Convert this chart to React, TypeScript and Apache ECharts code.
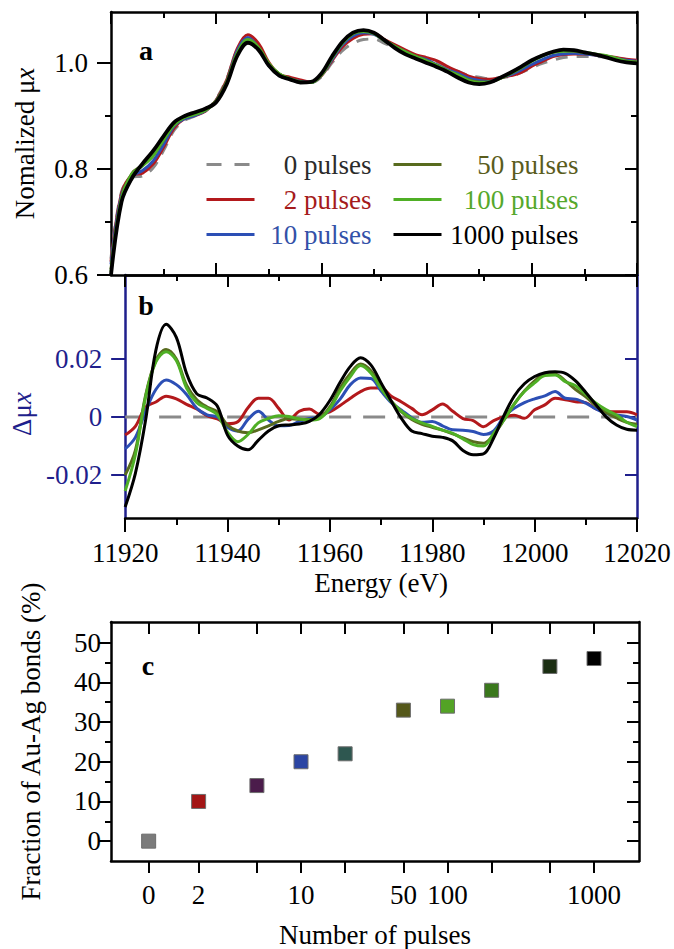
import React, { useEffect, useRef } from 'react';
import * as echarts from 'echarts';

// ---------- Panel a / b : energy grid (eV) ----------
const energies = [11920,11922,11924,11926,11928,11930,11932,11934,11936,11938,11940,11942,11944,11946,11948,11950,11952,11954,11956,11958,11960,11962,11964,11966,11968,11970,11972,11974,11976,11978,11980,11982,11984,11986,11988,11990,11992,11994,11996,11998,12000,12002,12004,12006,12008,12010,12012,12014,12016,12018,12020];

// Panel a: normalized mu x
const muA_0 = [0.631,0.757,0.784,0.787,0.802,0.835,0.873,0.892,0.900,0.910,0.932,0.970,1.024,1.046,1.030,0.998,0.979,0.971,0.965,0.963,0.974,1.000,1.023,1.037,1.044,1.045,1.037,1.029,1.021,1.014,1.007,0.999,0.991,0.984,0.976,0.973,0.970,0.972,0.975,0.982,0.991,0.999,1.005,1.010,1.012,1.012,1.012,1.011,1.008,1.005,1.004];
const muA_2 = [0.625,0.754,0.788,0.792,0.809,0.841,0.877,0.895,0.901,0.909,0.930,0.968,1.027,1.053,1.037,1.001,0.978,0.973,0.968,0.964,0.976,1.004,1.030,1.046,1.054,1.055,1.044,1.034,1.024,1.015,1.010,1.004,0.993,0.984,0.975,0.970,0.969,0.972,0.976,0.982,0.994,1.003,1.012,1.016,1.017,1.017,1.015,1.013,1.010,1.007,1.005];
const muA_10 = [0.620,0.750,0.786,0.797,0.815,0.846,0.881,0.895,0.901,0.910,0.929,0.965,1.023,1.048,1.029,0.995,0.976,0.970,0.965,0.963,0.977,1.006,1.034,1.051,1.057,1.054,1.042,1.031,1.021,1.012,1.006,0.996,0.987,0.980,0.971,0.967,0.965,0.972,0.978,0.987,0.997,1.006,1.014,1.017,1.018,1.017,1.015,1.012,1.009,1.005,1.003];
const muA_50 = [0.611,0.746,0.792,0.807,0.825,0.855,0.884,0.898,0.904,0.912,0.929,0.965,1.019,1.042,1.027,0.997,0.979,0.970,0.964,0.963,0.978,1.010,1.038,1.055,1.060,1.056,1.043,1.031,1.020,1.012,1.004,0.995,0.985,0.977,0.968,0.964,0.964,0.971,0.980,0.991,1.004,1.014,1.020,1.023,1.022,1.019,1.016,1.013,1.008,1.003,1.002];
const muA_100 = [0.606,0.744,0.791,0.806,0.825,0.855,0.883,0.897,0.903,0.911,0.927,0.962,1.018,1.044,1.030,0.999,0.979,0.970,0.964,0.963,0.977,1.009,1.037,1.055,1.059,1.055,1.042,1.031,1.021,1.012,1.004,0.995,0.985,0.977,0.967,0.963,0.964,0.971,0.980,0.991,1.003,1.013,1.020,1.022,1.023,1.020,1.017,1.014,1.009,1.003,1.001];
const muA_1000 = [0.600,0.738,0.783,0.810,0.834,0.862,0.888,0.900,0.907,0.914,0.926,0.960,1.013,1.038,1.025,0.995,0.976,0.969,0.963,0.964,0.980,1.012,1.040,1.057,1.062,1.057,1.043,1.028,1.016,1.008,1.000,0.992,0.983,0.972,0.963,0.960,0.963,0.972,0.982,0.993,1.005,1.014,1.021,1.025,1.024,1.020,1.016,1.011,1.005,1.001,0.999];

// Panel b: difference delta mu x
const zeroLineEnergies = [11920, 12020];
const dMu_0 = [0, 0];
const dMu_2 = [-0.0062,-0.0032,0.0035,0.0052,0.0072,0.0063,0.0044,0.0028,0.0005,-0.0006,-0.0023,-0.0016,0.0032,0.0065,0.0065,0.0030,-0.0010,0.0020,0.0028,0.0010,0.0018,0.0040,0.0065,0.0088,0.0100,0.0100,0.0072,0.0052,0.0030,0.0008,0.0025,0.0045,0.0020,-0.0005,-0.0012,-0.0033,-0.0012,0.0001,0.0006,-0.0004,0.0025,0.0042,0.0065,0.0060,0.0053,0.0050,0.0028,0.0019,0.0018,0.0018,0.0008];
const dMu_10 = [-0.0110,-0.0070,0.0020,0.0095,0.0128,0.0112,0.0078,0.0030,0.0008,0.0000,-0.0035,-0.0048,-0.0008,0.0020,-0.0010,-0.0030,-0.0029,-0.0015,-0.0005,0.0000,0.0025,0.0062,0.0112,0.0135,0.0133,0.0090,0.0050,0.0024,-0.0002,-0.0018,-0.0015,-0.0030,-0.0044,-0.0045,-0.0050,-0.0060,-0.0048,0.0001,0.0030,0.0050,0.0063,0.0073,0.0088,0.0065,0.0062,0.0048,0.0028,0.0012,0.0007,0.0002,-0.0010];
const dMu_50 = [-0.0200,-0.0115,0.0075,0.0195,0.0233,0.0200,0.0110,0.0060,0.0035,0.0018,-0.0028,-0.0048,-0.0054,-0.0044,-0.0030,-0.0015,-0.0005,-0.0008,-0.0008,-0.0002,0.0035,0.0100,0.0150,0.0183,0.0160,0.0105,0.0055,0.0018,-0.0008,-0.0025,-0.0035,-0.0045,-0.0058,-0.0072,-0.0085,-0.0090,-0.0060,-0.0010,0.0045,0.0090,0.0125,0.0148,0.0148,0.0125,0.0095,0.0070,0.0038,0.0015,-0.0003,-0.0018,-0.0025];
const dMu_100 = [-0.0255,-0.0130,0.0070,0.0190,0.0225,0.0195,0.0100,0.0050,0.0030,0.0008,-0.0052,-0.0085,-0.0060,-0.0020,-0.0005,0.0005,0.0002,-0.0006,-0.0010,-0.0005,0.0030,0.0090,0.0140,0.0178,0.0152,0.0098,0.0053,0.0020,-0.0005,-0.0020,-0.0032,-0.0045,-0.0056,-0.0075,-0.0095,-0.0100,-0.0056,-0.0010,0.0045,0.0088,0.0118,0.0143,0.0145,0.0122,0.0108,0.0078,0.0048,0.0025,0.0007,-0.0018,-0.0033];
const dMu_1000 = [-0.0310,-0.0194,-0.0010,0.0230,0.0320,0.0275,0.0150,0.0080,0.0066,0.0038,-0.0062,-0.0100,-0.0113,-0.0080,-0.0048,-0.0030,-0.0027,-0.0024,-0.0015,0.0010,0.0057,0.0120,0.0175,0.0205,0.0180,0.0118,0.0055,-0.0005,-0.0048,-0.0057,-0.0066,-0.0070,-0.0082,-0.0115,-0.0130,-0.0127,-0.0072,0.0005,0.0072,0.0115,0.0140,0.0153,0.0156,0.0151,0.0125,0.0085,0.0042,0.0000,-0.0027,-0.0042,-0.0045];

// Panel c
const pulseCounts = [0, 2, 5, 10, 20, 50, 100, 200, 500, 1000];
const auAgFraction = [0, 10, 14, 20, 22, 33, 34, 38, 44, 46];
const labeledPulses = [0, 2, 10, 50, 100, 1000];

// Tick values
const energyMajorTicks = [11920, 11940, 11960, 11980, 12000, 12020];
const energyMinorTicks = [11930, 11950, 11970, 11990, 12010];
const muMajorTicks = [0.6, 0.8, 1.0];
const muMinorTicks = [0.7, 0.9];
const dMuTicks = [-0.02, 0, 0.02];
const fracMajorTicks = [0, 10, 20, 30, 40, 50];
const fracMinorTicks = [5, 15, 25, 35, 45];

// ---------- styling ----------
const FONT = 'Liberation Serif';
const NAVY = '#1f1f8c';
const FS = 27;
const seriesStyle = [
  { name: '0 pulses', color: '#8a8a8a', text: '#2b2b2b' },
  { name: '2 pulses', color: '#b3191c', text: '#a51b1b' },
  { name: '10 pulses', color: '#2c4fb5', text: '#3351a8' },
  { name: '50 pulses', color: '#586b1e', text: '#5a5c1c' },
  { name: '100 pulses', color: '#4faf25', text: '#56a82c' },
  { name: '1000 pulses', color: '#000000', text: '#000000' },
];
const markerColors = ['#7b7b7b', '#a31515', '#4b1c4b', '#2b45a3', '#2e5750', '#55581a', '#53a325', '#3a781c', '#1b2e12', '#000000'];

const ZERO_PULSE_POS = -0.04;
const pulsePos = (n: number) => (n > 0 ? Math.log10(n) : ZERO_PULSE_POS);

function tickAxis(o: any) {
  const color = o.color || '#000';
  const ax: any = {
    type: 'value',
    gridIndex: o.gridIndex,
    position: o.position,
    min: o.min,
    max: o.max,
    splitLine: { show: false },
    axisLine: { show: !!o.line, onZero: false, lineStyle: { color, width: 2.5 } },
    axisTick: { show: true, inside: o.inside, length: o.len, customValues: o.ticks, lineStyle: { color, width: 2 } },
    axisLabel: o.labels
      ? { show: true, customValues: o.labels.values, formatter: o.labels.formatter, margin: o.labels.margin, color: o.labels.color || color, fontFamily: FONT, fontSize: FS }
      : { show: false },
    minorTick: { show: false },
    axisPointer: { show: false },
  };
  if (o.extra) Object.assign(ax, o.extra);
  return ax;
}

const E_MIN = 11920, E_MAX = 12020;
const MU_MIN = 0.6, MU_MAX = 1.096;
const DMU_MIN = -0.0348, DMU_MAX = 0.049;
const FR_MIN = -5, FR_MAX = 55.2;
const PX_MIN = -0.297, PX_MAX = 3.307;

function buildOption() {
  const pulseTickPos = pulseCounts.map(pulsePos);
  const pulseLabelPos = labeledPulses.map(pulsePos);
  const pulseFormatter = (v: number) => {
    const i = pulseLabelPos.findIndex((p) => Math.abs(p - v) < 1e-6);
    return i >= 0 ? String(labeledPulses[i]) : '';
  };

  const xAxis = [
    tickAxis({ gridIndex: 0, position: 'bottom', min: E_MIN, max: E_MAX, ticks: energyMajorTicks, len: 12, inside: true, line: true }),
    tickAxis({ gridIndex: 0, position: 'bottom', min: E_MIN, max: E_MAX, ticks: energyMinorTicks, len: 6, inside: true }),
    tickAxis({ gridIndex: 0, position: 'top', min: E_MIN, max: E_MAX, ticks: energyMajorTicks, len: 12, inside: true, line: true }),
    tickAxis({ gridIndex: 0, position: 'top', min: E_MIN, max: E_MAX, ticks: energyMinorTicks, len: 6, inside: true }),
    tickAxis({ gridIndex: 1, position: 'top', min: E_MIN, max: E_MAX, ticks: energyMajorTicks, len: 12, inside: true, line: true }),
    tickAxis({ gridIndex: 1, position: 'top', min: E_MIN, max: E_MAX, ticks: energyMinorTicks, len: 6, inside: true }),
    tickAxis({
      gridIndex: 1, position: 'bottom', min: E_MIN, max: E_MAX, ticks: energyMajorTicks, len: 14, inside: false, line: true,
      labels: { values: energyMajorTicks, formatter: (v: number) => String(Math.round(v)), margin: 21 },
      extra: { name: 'Energy (eV)', nameLocation: 'middle', nameGap: 51, nameTextStyle: { fontFamily: FONT, fontSize: FS, color: '#000' } },
    }),
    tickAxis({ gridIndex: 1, position: 'bottom', min: E_MIN, max: E_MAX, ticks: energyMinorTicks, len: 7, inside: false }),
    tickAxis({
      gridIndex: 2, position: 'bottom', min: PX_MIN, max: PX_MAX, ticks: pulseTickPos, len: 12, inside: false, line: true,
      labels: { values: pulseLabelPos, formatter: pulseFormatter, margin: 20 },
      extra: { name: 'Number of pulses', nameLocation: 'middle', nameGap: 60, nameTextStyle: { fontFamily: FONT, fontSize: FS, color: '#000' } },
    }),
    tickAxis({ gridIndex: 2, position: 'top', min: PX_MIN, max: PX_MAX, ticks: pulseTickPos, len: 12, inside: true, line: true }),
  ];

  const yAxis = [
    tickAxis({
      gridIndex: 0, position: 'left', min: MU_MIN, max: MU_MAX, ticks: muMajorTicks, len: 14, inside: false, line: true,
      labels: { values: muMajorTicks, formatter: (v: number) => v.toFixed(1), margin: 23 },
      extra: {
        name: 'Nomalized μ{i|x}', nameLocation: 'middle', nameGap: 73,
        nameTextStyle: { fontFamily: FONT, fontSize: FS, color: '#000', rich: { i: { fontFamily: FONT, fontSize: FS, fontStyle: 'italic', color: '#000' } } },
      },
    }),
    tickAxis({ gridIndex: 0, position: 'left', min: MU_MIN, max: MU_MAX, ticks: muMinorTicks, len: 6, inside: false }),
    tickAxis({ gridIndex: 0, position: 'right', min: MU_MIN, max: MU_MAX, ticks: muMajorTicks, len: 12, inside: true, line: true }),
    tickAxis({ gridIndex: 0, position: 'right', min: MU_MIN, max: MU_MAX, ticks: muMinorTicks, len: 6, inside: true }),
    tickAxis({
      gridIndex: 1, position: 'left', min: DMU_MIN, max: DMU_MAX, ticks: dMuTicks, len: 14, inside: false, line: true, color: NAVY,
      labels: { values: dMuTicks, formatter: (v: number) => (Math.abs(v) < 1e-9 ? '0' : v.toFixed(2)), margin: 23, color: NAVY },
      extra: {
        name: 'Δμ{i|x}', nameLocation: 'middle', nameGap: 73,
        nameTextStyle: { fontFamily: FONT, fontSize: FS, color: NAVY, padding: [0, 35, 0, 0], rich: { i: { fontFamily: FONT, fontSize: FS, fontStyle: 'italic', color: NAVY } } },
      },
    }),
    tickAxis({ gridIndex: 1, position: 'right', min: DMU_MIN, max: DMU_MAX, ticks: dMuTicks, len: 12, inside: true, line: true, color: NAVY }),
    tickAxis({
      gridIndex: 2, position: 'left', min: FR_MIN, max: FR_MAX, ticks: fracMajorTicks, len: 12, inside: false, line: true,
      labels: { values: fracMajorTicks, formatter: (v: number) => String(v), margin: 10 },
      extra: { name: 'Fraction of Au-Ag bonds (%)', nameLocation: 'middle', nameGap: 67, nameTextStyle: { fontFamily: FONT, fontSize: FS, color: '#000' } },
    }),
    tickAxis({ gridIndex: 2, position: 'left', min: FR_MIN, max: FR_MAX, ticks: fracMinorTicks, len: 6, inside: false }),
    tickAxis({ gridIndex: 2, position: 'right', min: FR_MIN, max: FR_MAX, ticks: fracMajorTicks, len: 12, inside: true, line: true }),
    tickAxis({ gridIndex: 2, position: 'right', min: FR_MIN, max: FR_MAX, ticks: fracMinorTicks, len: 6, inside: true }),
  ];

  const panelA = [muA_0, muA_2, muA_10, muA_50, muA_100, muA_1000];
  const panelB = [dMu_2, dMu_10, dMu_50, dMu_100, dMu_1000];
  const series: any[] = [];

  panelA.forEach((arr, k) => {
    const st = seriesStyle[k];
    series.push({
      type: 'line', name: st.name, xAxisIndex: 0, yAxisIndex: 0,
      data: energies.map((e, i) => [e, arr[i]]),
      showSymbol: false, symbol: 'none', smooth: 0.35, silent: true, z: 2 + k,
      lineStyle: { color: st.color, width: k === 5 ? 3.8 : 3, type: k === 0 ? [12, 9] : 'solid' },
      itemStyle: { color: st.color },
    });
  });

  series.push({
    type: 'line', name: seriesStyle[0].name, xAxisIndex: 6, yAxisIndex: 4,
    data: zeroLineEnergies.map((e, i) => [e, dMu_0[i]]),
    showSymbol: false, symbol: 'none', silent: true, z: 2,
    lineStyle: { color: '#8a8a8a', width: 3, type: [22, 12] },
    itemStyle: { color: '#8a8a8a' },
  });
  panelB.forEach((arr, k) => {
    const st = seriesStyle[k + 1];
    series.push({
      type: 'line', name: st.name, xAxisIndex: 6, yAxisIndex: 4,
      data: energies.map((e, i) => [e, arr[i]]),
      showSymbol: false, symbol: 'none', smooth: 0.35, silent: true, z: 3 + k,
      lineStyle: { color: st.color, width: 3, type: 'solid' },
      itemStyle: { color: st.color },
    });
  });

  series.push({
    type: 'scatter', name: 'Au-Ag fraction', xAxisIndex: 8, yAxisIndex: 6, silent: true,
    symbol: 'rect', symbolSize: 14,
    data: pulseCounts.map((n, i) => ({
      value: [pulsePos(n), auAgFraction[i]],
      itemStyle: { color: markerColors[i], borderColor: '#6d6d6d', borderWidth: 1, opacity: 1 },
    })),
    itemStyle: { opacity: 1 },
  });

  const rich: any = {};
  seriesStyle.forEach((s, i) => {
    rich['c' + i] = { fontFamily: FONT, fontSize: FS, color: s.text, width: i < 3 ? 112 : 132, align: 'right', lineHeight: 30 };
  });
  const legendFormatter = (name: string) => {
    const i = seriesStyle.findIndex((s) => s.name === name);
    return `{c${i}|${name}}`;
  };
  const legendBase = {
    orient: 'vertical', top: 151, itemWidth: 48, itemHeight: 14, itemGap: 8, padding: 0,
    selectedMode: false, formatter: legendFormatter, textStyle: { rich },
    itemStyle: { opacity: 0 },
    lineStyle: { width: 3 },
  };

  return {
    animation: false,
    backgroundColor: '#ffffff',
    grid: [
      { left: 111, top: 12, width: 526, height: 263, containLabel: false },
      { left: 111, top: 275, width: 526, height: 243, containLabel: false },
      { left: 111, top: 622, width: 528, height: 243, containLabel: false },
    ],
    xAxis,
    yAxis,
    legend: [
      {
        ...legendBase, left: 205,
        data: [
          { name: '0 pulses', lineStyle: { type: [15, 13] } },
          { name: '2 pulses' },
          { name: '10 pulses' },
        ],
      },
      {
        ...legendBase, left: 392,
        data: [{ name: '50 pulses' }, { name: '100 pulses' }, { name: '1000 pulses' }],
      },
    ],
    graphic: [
      { type: 'text', x: 146, y: 50, silent: true, style: { text: 'a', fill: '#000', font: `bold 28px ${FONT}`, align: 'center', verticalAlign: 'middle' } },
      { type: 'text', x: 146, y: 305, silent: true, style: { text: 'b', fill: '#000', font: `bold 28px ${FONT}`, align: 'center', verticalAlign: 'middle' } },
      { type: 'text', x: 148, y: 665, silent: true, style: { text: 'c', fill: '#000', font: `bold 28px ${FONT}`, align: 'center', verticalAlign: 'middle' } },
    ],
    series,
  };
}

export default function App() {
  const ref = useRef<HTMLDivElement>(null);
  useEffect(() => {
    if (!ref.current) return;
    const chart = echarts.init(ref.current, null, { renderer: 'svg' });
    chart.setOption(buildOption() as any);
    return () => chart.dispose();
  }, []);
  return (
    <div style={{ position: 'absolute', left: 0, top: 0, width: 674, height: 949, overflow: 'hidden', background: '#fff' }}>
      <div ref={ref} style={{ width: 674, height: 949 }} />
    </div>
  );
}
